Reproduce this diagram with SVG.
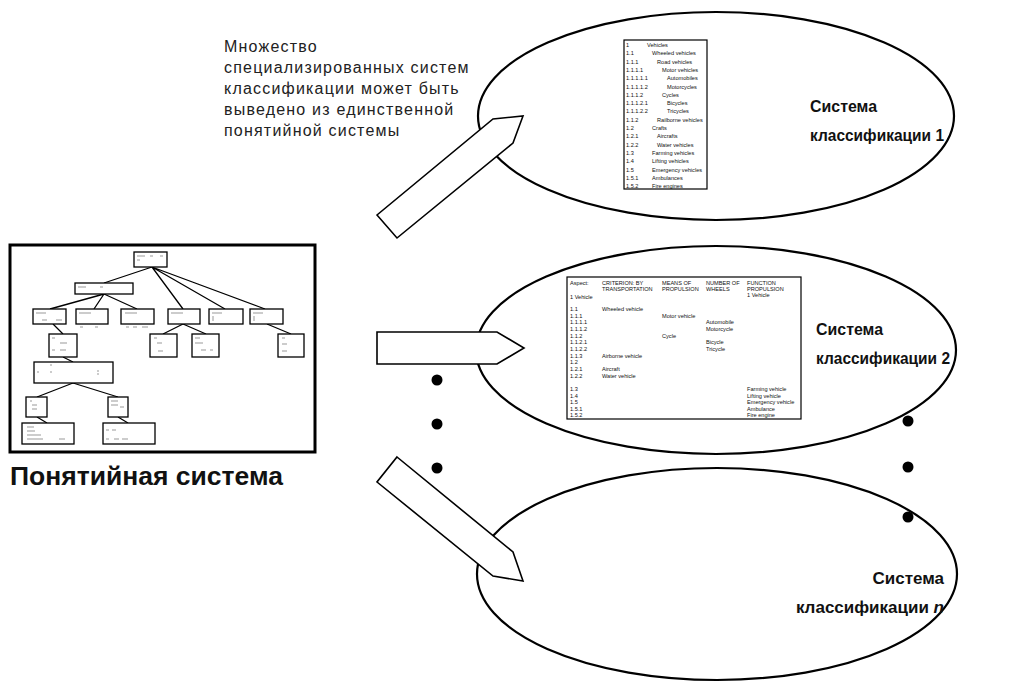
<svg xmlns="http://www.w3.org/2000/svg" width="1022" height="682" viewBox="0 0 1022 682">
<defs>
<style>
.bg{fill:#fff}
.ell{fill:#fff;stroke:#000;stroke-width:2.2}
.arr{fill:#fff;stroke:#000;stroke-width:1.6;stroke-linejoin:miter}
.dot{fill:#000}
.lbl{font-family:"Liberation Sans",Arial,sans-serif;font-weight:bold;font-size:17px;fill:#111}
.note{font-family:"Liberation Sans",Arial,sans-serif;font-size:16px;fill:#222;letter-spacing:1.2px}
.big{font-family:"Liberation Sans",Arial,sans-serif;font-weight:bold;font-size:26.5px;fill:#111}
.tb{fill:#fff;stroke:#000;stroke-width:1.2}
.tt{font-family:"Liberation Sans",Arial,sans-serif;font-size:5.6px;fill:#111}
.tn{fill:#fff;stroke:#000;stroke-width:1.3}
.te{stroke:#000;stroke-width:1.3;fill:none}
.mk{stroke:#555;stroke-width:0.6}
</style>
</defs>
<rect class="bg" width="1022" height="682"/>

<text class="note" x="224" y="52">Множество</text>
<text class="note" x="224" y="73">специализированных систем</text>
<text class="note" x="224" y="94">классификации может быть</text>
<text class="note" x="224" y="115">выведено из единственной</text>
<text class="note" x="224" y="136">понятийной системы</text>

<g id="concept-system">
<rect x="10" y="245" width="305" height="207" fill="#fff" stroke="#000" stroke-width="3"/>
<g class="te">
<path d="M152 267 L104 283 M152 267 L183 309 M152 267 L225 309 M152 267 L265 309"/>
<path d="M104 294 L50 309 M104 294 L94 309 M104 294 L137 309"/>
<path d="M53 324 L63 334 M183 324 L163 334 M183 324 L206 334 M267 324 L291 334"/>
<path d="M63 357 L73 362 M73 383 L37 397 M73 383 L118 397 M37 417 L47 423 M118 417 L128 423"/>
</g>
<g class="tn">
<rect x="134" y="252" width="33" height="15"/>
<rect x="75" y="283" width="58" height="11"/>
<rect x="33" y="309" width="33" height="15"/>
<rect x="76" y="309" width="32" height="15"/>
<rect x="121" y="309" width="33" height="15"/>
<rect x="168" y="309" width="32" height="15"/>
<rect x="209" y="309" width="34" height="15"/>
<rect x="250" y="309" width="33" height="15"/>
<rect x="49" y="334" width="28" height="23"/>
<rect x="150" y="334" width="27" height="23"/>
<rect x="192" y="334" width="27" height="23"/>
<rect x="278" y="334" width="26" height="23"/>
<rect x="34" y="362" width="79" height="21"/>
<rect x="26" y="397" width="21" height="20"/>
<rect x="108" y="397" width="20" height="20"/>
<rect x="22" y="423" width="52" height="21"/>
<rect x="103" y="423" width="52" height="21"/>
</g>
<g class="mk">
<path d="M137 256h8M150 256h3M160 256h3M137 260h3M78 287h8M100 287h3"/>
<path d="M36 313h10M42 320h5M56 320h6M79 313h12M125 313h12M171 313h12M212 313h10M213 316v5M253 313h10M254 316v5"/>
<path d="M80 327h3M95 327h3M126 327h3M133 327h4M142 327h6"/>
<path d="M52 338h3M60 343h7M52 350h3M60 350h6M154 338h3M157 343h5M158 351h5M195 338h5M195 343h8M201 350h5M210 350h3M282 338h3M282 344h5M282 351h5"/>
<path d="M50 365h2M37 372h2M50 372h2M97 371h2M97 374h2M30 401h2M32 405h5M32 409h5M111 401h7M111 405h7M120 407h4"/>
<path d="M27 427h7M27 431h8M27 435h14M27 439h16M59 439h6M106 430h3M112 430h4M106 439h3M114 439h5M122 439h6"/>
</g>
</g>
<text class="big" x="10" y="485">Понятийная система</text>

<g id="classification-1">
<ellipse class="ell" cx="716" cy="116" rx="238" ry="104"/>
<rect class="tb" x="624" y="40" width="83" height="149"/>
<g class="tt">
<text x="626" y="47">1</text><text x="647" y="47">Vehicles</text>
<text x="626" y="55.3">1.1</text><text x="652" y="55.3">Wheeled vehicles</text>
<text x="626" y="63.6">1.1.1</text><text x="657" y="63.6">Road vehicles</text>
<text x="626" y="71.9">1.1.1.1</text><text x="662" y="71.9">Motor vehicles</text>
<text x="626" y="80.2">1.1.1.1.1</text><text x="667" y="80.2">Automobiles</text>
<text x="626" y="88.5">1.1.1.1.2</text><text x="667" y="88.5">Motorcycles</text>
<text x="626" y="96.8">1.1.1.2</text><text x="662" y="96.8">Cycles</text>
<text x="626" y="105.1">1.1.1.2.1</text><text x="667" y="105.1">Bicycles</text>
<text x="626" y="113.4">1.1.1.2.2</text><text x="667" y="113.4">Tricycles</text>
<text x="626" y="121.7">1.1.2</text><text x="657" y="121.7">Railborne vehicles</text>
<text x="626" y="130">1.2</text><text x="652" y="130">Crafts</text>
<text x="626" y="138.3">1.2.1</text><text x="657" y="138.3">Aircrafts</text>
<text x="626" y="146.6">1.2.2</text><text x="657" y="146.6">Water vehicles</text>
<text x="626" y="154.9">1.3</text><text x="652" y="154.9">Farming vehicles</text>
<text x="626" y="163.2">1.4</text><text x="652" y="163.2">Lifting vehicles</text>
<text x="626" y="171.5">1.5</text><text x="652" y="171.5">Emergency vehicles</text>
<text x="626" y="179.8">1.5.1</text><text x="652" y="179.8">Ambulances</text>
<text x="626" y="188.1">1.5.2</text><text x="652" y="188.1">Fire engines</text>
</g>
<text class="lbl" x="810" y="112" textLength="67" lengthAdjust="spacingAndGlyphs">Система</text>
<text class="lbl" x="810" y="141" textLength="134" lengthAdjust="spacingAndGlyphs">классификации 1</text>
</g>

<g id="classification-2">
<ellipse class="ell" cx="716" cy="350" rx="240" ry="104"/>
<rect class="tb" x="567" y="277" width="234" height="142"/>
<g class="tt">
<text x="570" y="285">Aspect:</text>
<text x="602" y="285">CRITERION: BY</text><text x="602" y="291">TRANSPORTATION</text>
<text x="662" y="285">MEANS OF</text><text x="662" y="291">PROPULSION</text>
<text x="706" y="285">NUMBER OF</text><text x="706" y="291">WHEELS</text>
<text x="747" y="285">FUNCTION</text><text x="747" y="291">PROPULSION</text><text x="747" y="297">1 Vehicle</text>
<text x="570" y="299">1 Vehicle</text>
<text x="570" y="311">1.1</text><text x="602" y="311">Wheeled vehicle</text>
<text x="570" y="317.7">1.1.1</text><text x="662" y="317.7">Motor vehicle</text>
<text x="570" y="324.3">1.1.1.1</text><text x="706" y="324.3">Automobile</text>
<text x="570" y="331">1.1.1.2</text><text x="706" y="331">Motorcycle</text>
<text x="570" y="337.7">1.1.2</text><text x="662" y="337.7">Cycle</text>
<text x="570" y="344.3">1.1.2.1</text><text x="706" y="344.3">Bicycle</text>
<text x="570" y="351">1.1.2.2</text><text x="706" y="351">Tricycle</text>
<text x="570" y="357.7">1.1.3</text><text x="602" y="357.7">Airborne vehicle</text>
<text x="570" y="364.3">1.2</text>
<text x="570" y="371">1.2.1</text><text x="602" y="371">Aircraft</text>
<text x="570" y="377.7">1.2.2</text><text x="602" y="377.7">Water vehicle</text>
<text x="570" y="391">1.3</text><text x="747" y="391">Farming vehicle</text>
<text x="570" y="397.5">1.4</text><text x="747" y="397.5">Lifting vehicle</text>
<text x="570" y="404">1.5</text><text x="747" y="404">Emergency vehicle</text>
<text x="570" y="410.5">1.5.1</text><text x="747" y="410.5">Ambulance</text>
<text x="570" y="417">1.5.2</text><text x="747" y="417">Fire engine</text>
</g>
<text class="lbl" x="816" y="335" textLength="67" lengthAdjust="spacingAndGlyphs">Система</text>
<text class="lbl" x="816" y="364" textLength="134" lengthAdjust="spacingAndGlyphs">классификации 2</text>
</g>

<g id="classification-n">
<ellipse class="ell" cx="717" cy="574" rx="240" ry="106"/>
<text class="lbl" x="944" y="584" text-anchor="end" font-size="16">Система</text>
<text class="lbl" x="944" y="613" text-anchor="end" font-size="16">классификации <tspan font-style="italic">n</tspan></text>
</g>

<g id="connectors">
<polygon class="arr" points="377,215 397,238 513,143 523,116 493,119"/>
<polygon class="arr" points="377,332 497,332 524,348 497,364 377,364"/>
<polygon class="arr" points="397,457 513,552 523,581 493,576 377,482"/>
</g>

<g id="ellipsis-dots">
<circle class="dot" cx="437" cy="380" r="5.5"/>
<circle class="dot" cx="437" cy="424" r="5.5"/>
<circle class="dot" cx="437" cy="468" r="5.5"/>
<circle class="dot" cx="908" cy="421" r="5.5"/>
<circle class="dot" cx="908" cy="467" r="5.5"/>
<circle class="dot" cx="908" cy="517" r="5.5"/>
</g>
</svg>
